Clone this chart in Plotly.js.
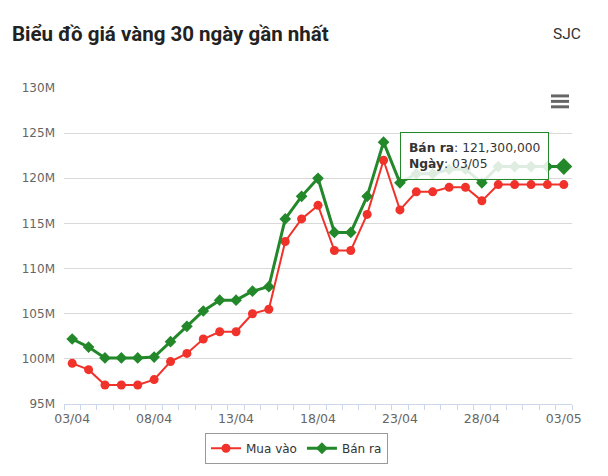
<!DOCTYPE html>
<html>
<head>
<meta charset="utf-8">
<script src="https://cdn.plot.ly/plotly-3.0.1.min.js"></script>
<style>
html,body{margin:0;padding:0;background:#fff;}
#chart{width:608px;height:476px;}
</style>
</head>
<body>
<div id="chart"></div>
<script>
// Dates (category labels)
const dates = ["03/04","04/04","05/04","06/04","07/04","08/04","09/04","10/04","11/04","12/04",
  "13/04","14/04","15/04","16/04","17/04","18/04","19/04","20/04","21/04","22/04",
  "23/04","24/04","25/04","26/04","27/04","28/04","29/04","30/04","01/05","02/05","03/05"];

// Prices in million VND
const muaVao = [99.5, 98.8, 97.1, 97.1, 97.1, 97.7, 99.7, 100.6, 102.2, 103.0,
  103.0, 105.0, 105.5, 113.0, 115.5, 117.0, 112.0, 112.0, 116.0, 122.0,
  116.5, 118.5, 118.5, 119.0, 119.0, 117.5, 119.3, 119.3, 119.3, 119.3, 119.3];
const banRa = [102.2, 101.3, 100.1, 100.1, 100.1, 100.2, 101.9, 103.6, 105.3, 106.5,
  106.5, 107.5, 108.0, 115.5, 118.0, 120.0, 114.0, 114.0, 118.0, 124.0,
  119.5, 120.5, 120.5, 121.0, 121.0, 119.5, 121.3, 121.3, 121.3, 121.3, 121.3];

// Axis ticks
const yTickVals = [95, 100, 105, 110, 115, 120, 125, 130];
const yTickText = ["95M","100M","105M","110M","115M","120M","125M","130M"];
const xLabelEvery = 5;

const seriesNames = ["Mua vào", "Bán ra"];

const RED = "#f0322a";
const GREEN = "#23882a";
const M = 1e6;

const idx = dates.map((d, i) => i);
const last = dates.length - 1;
const xTickVals = idx.filter(i => i % xLabelEvery === 0);
const xTickText = xTickVals.map(i => dates[i]);

const traces = [
  {
    x: idx, y: muaVao.map(v => v * M), name: seriesNames[0],
    type: "scatter", mode: "lines+markers",
    line: {color: RED, width: 2},
    marker: {symbol: "circle", size: 9, color: RED, opacity: 1, line: {width: 0}}
  },
  {
    x: idx, y: banRa.map(v => v * M), name: seriesNames[1],
    type: "scatter", mode: "lines+markers",
    line: {color: GREEN, width: 3},
    marker: {symbol: "diamond", size: idx.map(i => i === last ? 13 : 9), color: GREEN, opacity: 1, line: {width: 0}}
  }
];

// plot area geometry (pixels) for decorations
const L = 64, R = 572, T = 88, B = 407;
const px2x = p => (p - L) / (R - L);
const px2y = p => (B - p) / (B - T);

const bars = [[94.5, 97.5], [100, 103], [105.5, 108.5]].map(([a, b]) => ({
  type: "rect", xref: "paper", yref: "paper",
  x0: px2x(551), x1: px2x(569), y0: px2y(b), y1: px2y(a),
  fillcolor: "#666", line: {width: 0}
}));

const tipText = "<b>" + seriesNames[1] + "</b>: " + (banRa[last] * M).toLocaleString("en-US") +
  "<br><b>Ngày</b>: " + dates[last];

const layout = {
  width: 608, height: 476,
  margin: {l: L, r: 608 - R, t: T, b: 476 - B, pad: 0},
  paper_bgcolor: "#fff", plot_bgcolor: "#fff",
  showlegend: true,
  hovermode: false,
  title: {
    text: "<b>Biểu đồ giá vàng 30 ngày gần nhất</b>",
    font: {family: "Roboto", size: 20.5, color: "#222"},
    x: 12 / 608, xanchor: "left", xref: "container",
    y: 1 - 34 / 476, yanchor: "middle", yref: "container"
  },
  xaxis: {
    type: "linear", range: [-0.5, last + 0.5], fixedrange: true,
    tickmode: "array", tickvals: xTickVals, ticktext: xTickText,
    ticks: "", showgrid: false, zeroline: false,
    showline: true, linecolor: "#ccd6eb", linewidth: 1,
    tickfont: {family: "DejaVu Sans", size: 12.5, color: "#666"},
    ticklabelstandoff: 3,
    minor: {tick0: -0.5, dtick: 1, ticks: "outside", ticklen: 5, tickcolor: "#ccd6eb", tickwidth: 1, showgrid: false}
  },
  yaxis: {
    range: [95 * M, 130 * M], fixedrange: true,
    tickmode: "array", tickvals: yTickVals.map(v => v * M), ticktext: yTickText,
    ticks: "", showgrid: true, gridcolor: "#d9d9d9", gridwidth: 1,
    zeroline: false, showline: false,
    tickfont: {family: "DejaVu Sans", size: 12, color: "#666"},
    ticklabelstandoff: 8
  },
  legend: {
    orientation: "h", x: px2x(296.5), xanchor: "center",
    y: px2y(436), yanchor: "top",
    bordercolor: "#999", borderwidth: 1, bgcolor: "#fff",
    font: {family: "DejaVu Sans", size: 12, color: "#333"}
  },
  shapes: bars,
  annotations: [
    {
      text: "SJC", xref: "paper", yref: "paper",
      x: px2x(583), xanchor: "right", y: px2y(33), yanchor: "middle",
      showarrow: false, font: {family: "Roboto", size: 15.5, color: "#333"}
    },
    {
      text: tipText, xref: "paper", yref: "paper",
      x: px2x(474.5), xanchor: "center", y: px2y(156.5), yanchor: "middle",
      showarrow: false, align: "left",
      bordercolor: GREEN, borderwidth: 1, borderpad: 8,
      bgcolor: "rgba(255,255,255,0.85)",
      font: {family: "DejaVu Sans", size: 12.3, color: "#333"}
    }
  ]
};

Plotly.newPlot("chart", traces, layout, {displayModeBar: false, responsive: false});
</script>
</body>
</html>
